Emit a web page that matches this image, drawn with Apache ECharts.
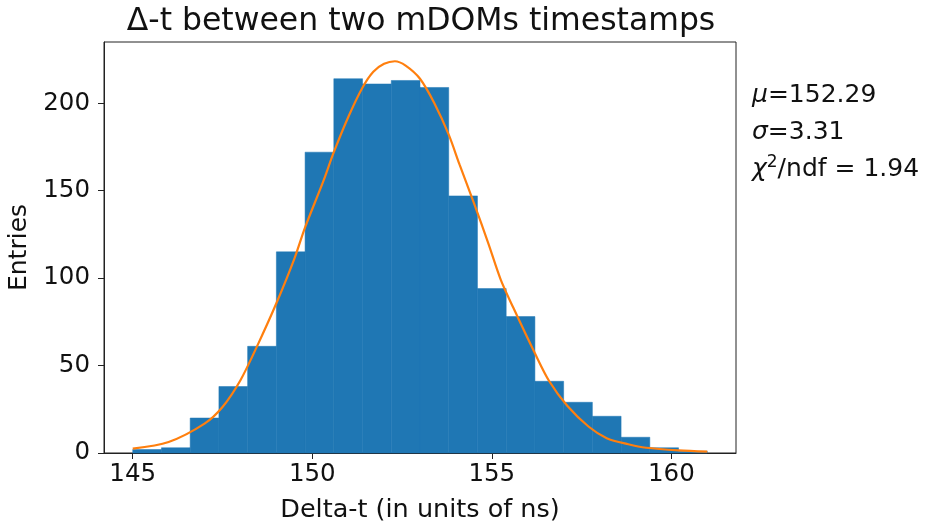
<!DOCTYPE html>
<html>
<head>
<meta charset="utf-8">
<script src="https://cdn.jsdelivr.net/npm/echarts@6/dist/echarts.min.js"></script>
<style>
html,body{margin:0;padding:0;background:#fff;}
#c{width:926px;height:526px;}
</style>
</head>
<body>
<div id="c"></div>
<script>
// Histogram bin edges (ns) and counts
const binEdges = [145, 145.8, 146.6, 147.4, 148.2, 149, 149.8, 150.6, 151.4, 152.2, 153, 153.8, 154.6, 155.4, 156.2, 157, 157.8, 158.6, 159.4, 160.2, 161];
const counts = [2, 3, 20, 38, 61, 115, 172, 214, 211, 213, 209, 147, 94, 78, 41, 29, 21, 9, 3, 1];
// Fit curve points
const fitX = [145, 146, 147, 147.5, 148, 148.5, 149, 149.5, 149.8, 150.3, 150.6, 151, 151.4, 151.7, 152, 152.3, 152.6, 153, 153.4, 153.8, 154.1, 154.5, 154.9, 155.25, 155.6, 156.2, 156.6, 157.1, 157.7, 158.2, 158.8, 159.3, 160.2, 161];
const fitY = [2.5, 6.3, 16.8, 26.3, 41.6, 62.7, 85.6, 111, 129, 155, 172, 192, 209, 218, 222.5, 224, 221.5, 214, 200, 182, 165, 143, 120, 99, 83, 57, 41, 27, 15, 8.5, 5, 3, 1.5, 0.8];
// Tick labels
const xTicks = [145, 150, 155, 160];
const yTicks = [0, 50, 100, 150, 200];
const titleText = 'Δ-t between two mDOMs timestamps';
const xName = 'Delta-t (in units of ns)';
const yName = 'Entries';
const statMu = '152.29', statSigma = '3.31', statChi = '1.94';

const FONT = 'DejaVu Sans';
const barData = counts.map((c, i) => [binEdges[i], binEdges[i + 1], c]);
const lineData = fitX.map((x, i) => [x, fitY[i]]);

const chart = echarts.init(document.getElementById('c'), null, {renderer: 'canvas'});
chart.setOption({
  animation: false,
  backgroundColor: '#fff',
  textStyle: {fontFamily: FONT},
  title: {
    text: titleText,
    left: 416, top: 1, textAlign: 'center',
    textStyle: {fontFamily: FONT, fontSize: 31.5, fontWeight: 'normal', color: '#111'}
  },
  grid: {left: 104, right: 190, top: 42, bottom: 73, show: true, borderColor: '#222', borderWidth: 1, backgroundColor: 'transparent', containLabel: false, outerBoundsMode: 'none'},
  xAxis: {
    type: 'value', min: 144.2, max: 161.8,
    name: xName, nameLocation: 'middle', nameGap: 44,
    nameTextStyle: {fontFamily: FONT, fontSize: 25.5, color: '#111'},
    axisLine: {show: true, onZero: false, lineStyle: {color: '#222', width: 1}},
    axisTick: {show: true, length: 6, customValues: xTicks, lineStyle: {color: '#222'}},
    axisLabel: {customValues: xTicks, margin: 9, fontFamily: FONT, fontSize: 24.5, color: '#111'},
    splitLine: {show: false}
  },
  yAxis: {
    type: 'value', min: 0, max: 235,
    name: yName, nameLocation: 'middle', nameGap: 65, nameRotate: 90,
    nameTextStyle: {fontFamily: FONT, fontSize: 25, color: '#111'},
    axisLine: {show: true, lineStyle: {color: '#222', width: 1}},
    axisTick: {show: true, length: 6, customValues: yTicks, lineStyle: {color: '#222'}},
    axisLabel: {customValues: yTicks, margin: 14, fontFamily: FONT, fontSize: 24.5, color: '#111'},
    splitLine: {show: false}
  },
  series: [
    {
      type: 'custom',
      data: barData,
      encode: {x: [0, 1], y: 2},
      renderItem: function (params, api) {
        const p0 = api.coord([api.value(0), api.value(2)]);
        const p1 = api.coord([api.value(1), 0]);
        return {
          type: 'rect',
          shape: {x: p0[0], y: p0[1], width: p1[0] - p0[0], height: p1[1] - p0[1]},
          style: {fill: '#1f77b4', stroke: '#1f77b4', lineWidth: 0.5}
        };
      },
      z: 2
    },
    {
      type: 'line',
      data: lineData,
      smooth: 0.3,
      showSymbol: false,
      symbol: 'none',
      lineStyle: {color: '#ff7f0e', width: 2.2},
      z: 3
    }
  ],
  graphic: [
    {
      type: 'text', left: 752, top: 77,
      style: {
        text: '{i|μ}=' + statMu + '\n{i|σ}=' + statSigma + '\n{i|χ}{s|2}/ndf = ' + statChi,
        fontFamily: FONT, fontSize: 25, fill: '#111', lineHeight: 37,
        rich: {
          i: {fontFamily: FONT, fontSize: 25, fontStyle: 'italic', fill: '#111', lineHeight: 37},
          s: {fontFamily: FONT, fontSize: 17, fill: '#111', padding: [0, 0, 14, 0], lineHeight: 37}
        }
      }
    }
  ]
});
</script>
</body>
</html>
